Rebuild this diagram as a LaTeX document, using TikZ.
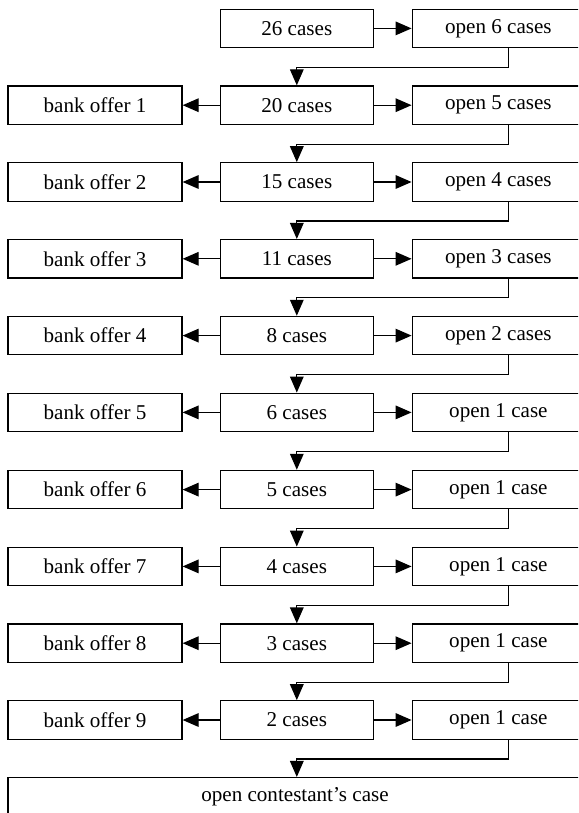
\documentclass[tikz,border=0pt]{standalone}
\usepackage{fontspec}
\setmainfont{Liberation Serif}
\usetikzlibrary{arrows.meta}

\tikzset{
  box/.style={shape=rectangle,draw=black,line width=0.9pt,minimum height=0.96cm,inner sep=0pt,font=\fontsize{15}{18}\selectfont},
  offer/.style={box,minimum width=4.35cm},
  cases/.style={box,minimum width=3.83cm},
  opening/.style={box,minimum width=4.31cm},
  flow/.style={-{Triangle[length=0.4cm,width=0.34cm]},line width=0.9pt}
}

\begin{document}
\begin{tikzpicture}

\useasboundingbox (0,0) rectangle (14.45,-20.325);
\clip (0,0) rectangle (14.45,-20.325);

\node[cases] (m1) at (7.42,-0.71) {26 cases};
\node[opening] (o1) at (12.46,-0.71) {open 6 cases};

\node[offer] (b2) at (2.375,-2.63) {bank offer 1};
\node[cases] (m2) at (7.42,-2.63) {20 cases};
\node[opening] (o2) at (12.46,-2.63) {open 5 cases};

\node[offer] (b3) at (2.375,-4.55) {bank offer 2};
\node[cases] (m3) at (7.42,-4.55) {15 cases};
\node[opening] (o3) at (12.46,-4.55) {open 4 cases};

\node[offer] (b4) at (2.375,-6.47) {bank offer 3};
\node[cases] (m4) at (7.42,-6.47) {11 cases};
\node[opening] (o4) at (12.46,-6.47) {open 3 cases};

\node[offer] (b5) at (2.375,-8.39) {bank offer 4};
\node[cases] (m5) at (7.42,-8.39) {8 cases};
\node[opening] (o5) at (12.46,-8.39) {open 2 cases};

\node[offer] (b6) at (2.375,-10.31) {bank offer 5};
\node[cases] (m6) at (7.42,-10.31) {6 cases};
\node[opening] (o6) at (12.46,-10.31) {open 1 case};

\node[offer] (b7) at (2.375,-12.24) {bank offer 6};
\node[cases] (m7) at (7.42,-12.24) {5 cases};
\node[opening] (o7) at (12.46,-12.24) {open 1 case};

\node[offer] (b8) at (2.375,-14.16) {bank offer 7};
\node[cases] (m8) at (7.42,-14.16) {4 cases};
\node[opening] (o8) at (12.46,-14.16) {open 1 case};

\node[offer] (b9) at (2.375,-16.08) {bank offer 8};
\node[cases] (m9) at (7.42,-16.08) {3 cases};
\node[opening] (o9) at (12.46,-16.08) {open 1 case};

\node[offer] (b10) at (2.375,-18.00) {bank offer 9};
\node[cases] (m10) at (7.42,-18.00) {2 cases};
\node[opening] (o10) at (12.46,-18.00) {open 1 case};

\node[box,minimum width=14.35cm] (end) at (7.375,-19.92) {open contestant's case};

% to the right: cases opened
\path[flow] (m1) edge (o1);
\path[flow] (m2) edge (o2);
\path[flow] (m3) edge (o3);
\path[flow] (m4) edge (o4);
\path[flow] (m5) edge (o5);
\path[flow] (m6) edge (o6);
\path[flow] (m7) edge (o7);
\path[flow] (m8) edge (o8);
\path[flow] (m9) edge (o9);
\path[flow] (m10) edge (o10);

% to the left: bank offers
\path[flow] (m2) edge (b2);
\path[flow] (m3) edge (b3);
\path[flow] (m4) edge (b4);
\path[flow] (m5) edge (b5);
\path[flow] (m6) edge (b6);
\path[flow] (m7) edge (b7);
\path[flow] (m8) edge (b8);
\path[flow] (m9) edge (b9);
\path[flow] (m10) edge (b10);

% back to the next round
\draw[flow] ([xshift=2.5mm]o1.south) -- ++(0,-0.48) -| (m2.north);
\draw[flow] ([xshift=2.5mm]o2.south) -- ++(0,-0.48) -| (m3.north);
\draw[flow] ([xshift=2.5mm]o3.south) -- ++(0,-0.48) -| (m4.north);
\draw[flow] ([xshift=2.5mm]o4.south) -- ++(0,-0.48) -| (m5.north);
\draw[flow] ([xshift=2.5mm]o5.south) -- ++(0,-0.48) -| (m6.north);
\draw[flow] ([xshift=2.5mm]o6.south) -- ++(0,-0.48) -| (m7.north);
\draw[flow] ([xshift=2.5mm]o7.south) -- ++(0,-0.48) -| (m8.north);
\draw[flow] ([xshift=2.5mm]o8.south) -- ++(0,-0.48) -| (m9.north);
\draw[flow] ([xshift=2.5mm]o9.south) -- ++(0,-0.48) -| (m10.north);
\draw[flow] ([xshift=2.5mm]o10.south) -- ++(0,-0.48) -| (end.north -| m10.north);

\end{tikzpicture}
\end{document}
